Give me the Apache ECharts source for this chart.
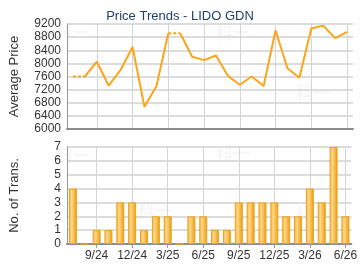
<!DOCTYPE html>
<html>
<head>
<meta charset="UTF-8">
<title>Price Trends - LIDO GDN</title>
<script src="https://cdn.jsdelivr.net/npm/echarts@6/dist/echarts.min.js"></script>
<style>
* { margin: 0; padding: 0; }
body { background: #fff; }
#chart { width: 360px; height: 270px; }
</style>
</head>
<body>
<div id="chart"></div>
<script>
// months 7/24 .. 6/26
var months = ['7/24','8/24','9/24','10/24','11/24','12/24','1/25','2/25','3/25','4/25','5/25','6/25',
              '7/25','8/25','9/25','10/25','11/25','12/25','1/26','2/26','3/26','4/26','5/26','6/26'];
var avgPrice = [7600, 7600, 8050, 7320, 7800, 8500, 6680, 7300, 8920, 8920, 8200, 8100,
                8240, 7620, 7350, 7600, 7310, 9000, 7850, 7560, 9060, 9150, 8770, 8960];
// months with no transactions: price carried forward (dotted segment into them)
var carried = [1, 9];
var trans = [4, 0, 1, 1, 3, 3, 1, 2, 2, 0, 2, 2, 1, 1, 3, 3, 3, 3, 2, 2, 4, 3, 7, 2];
var priceTicks = [6000, 6400, 6800, 7200, 7600, 8000, 8400, 8800, 9200];

var lineColor = '#f9a61a';

// split the price line into solid runs and dotted segments
var lineSeries = [];
function emptyRow() { return months.map(function () { return null; }); }
var run = null;
for (var i = 0; i < months.length; i++) {
    if (i > 0 && carried.indexOf(i) >= 0) {
        var dot = emptyRow();
        dot[i - 1] = avgPrice[i - 1];
        dot[i] = avgPrice[i];
        lineSeries.push({ data: dot, dotted: true });
        run = null;
    }
    if (i + 1 < months.length && carried.indexOf(i + 1) >= 0) {
        if (run) run[i] = avgPrice[i];
        run = null;
        continue;
    }
    if (!run) { run = emptyRow(); lineSeries.push({ data: run, dotted: false }); }
    run[i] = avgPrice[i];
}

var labelShow = function (idx) { return (idx - 2) % 3 === 0; };

var chart = echarts.init(document.getElementById('chart'), null, { renderer: 'canvas' });

// faint watermark
var marks = [[56, 24], [138, 82], [216, 24], [296, 84], [56, 147], [138, 202], [216, 145], [296, 205]];
var graphic = marks.map(function (p) {
    return { type: 'text', left: p[0], top: p[1], z: 0, silent: true,
        style: { text: '科一', fill: 'rgba(0,0,0,0.035)', font: 'bold 17px "Noto Sans CJK SC"' } };
});

chart.setOption({
    backgroundColor: '#fff',
    animation: false,
    graphic: graphic,
    title: {
        text: 'Price Trends - LIDO GDN',
        left: 'center',
        top: 5,
        textStyle: { color: '#1f3f6a', fontSize: 13, fontWeight: 'normal', fontFamily: 'Liberation Sans' }
    },
    grid: [
        { left: 64, right: 7, top: 24, height: 105 },
        { left: 64, right: 7, top: 147, height: 97 }
    ],
    xAxis: [0, 1].map(function (g) {
        return {
            type: 'category',
            gridIndex: g,
            data: months,
            boundaryGap: true,
            axisLine: { lineStyle: { color: '#8c8c8c', width: 2 } },
            axisTick: { show: g === 1, alignWithLabel: true, interval: labelShow, length: 4, lineStyle: { color: '#999' } },
            axisLabel: { show: g === 1, interval: labelShow, color: '#333', fontSize: 12, margin: 6, fontFamily: 'Liberation Sans' },
            splitLine: { show: true, alignWithLabel: true, interval: labelShow, lineStyle: { color: '#d4d4d4', width: 1 } }
        };
    }),
    yAxis: [
        {
            type: 'value', gridIndex: 0, min: priceTicks[0], max: priceTicks[priceTicks.length - 1], interval: 400,
            name: 'Average Price', nameLocation: 'middle', nameGap: 46,
            nameTextStyle: { color: '#333', fontSize: 13, fontFamily: 'Liberation Sans' },
            axisLine: { show: true, lineStyle: { color: '#999', width: 1 } },
            axisTick: { show: false },
            axisLabel: { color: '#333', fontSize: 12, margin: 6, fontFamily: 'Liberation Sans',
                formatter: function (v) { return String(v); } },
            splitLine: { lineStyle: { color: '#dcdcdc', width: 2 } }
        },
        {
            type: 'value', gridIndex: 1, min: 0, max: 7, interval: 1,
            name: 'No. of Trans.', nameLocation: 'middle', nameGap: 46,
            nameTextStyle: { color: '#333', fontSize: 13, fontFamily: 'Liberation Sans' },
            axisLine: { show: true, lineStyle: { color: '#999', width: 1 } },
            axisTick: { show: false },
            axisLabel: { color: '#333', fontSize: 12, margin: 6, fontFamily: 'Liberation Sans' },
            splitLine: { lineStyle: { color: '#dcdcdc', width: 2 } }
        }
    ],
    series: lineSeries.map(function (s) {
        return {
            type: 'line', xAxisIndex: 0, yAxisIndex: 0, data: s.data,
            showSymbol: false, connectNulls: false, z: 3,
            lineStyle: { color: lineColor, width: 2, type: s.dotted ? [3, 2] : 'solid' }
        };
    }).concat([{
        type: 'bar', xAxisIndex: 1, yAxisIndex: 1, data: trans, barWidth: 8, z: 3,
        itemStyle: {
            color: new echarts.graphic.LinearGradient(0, 0, 1, 0, [
                { offset: 0, color: '#f6b33a' },
                { offset: 0.35, color: '#ffd688' },
                { offset: 1, color: '#e89a08' }
            ]),
            borderColor: '#eaa11c', borderWidth: 1
        }
    }])
});
</script>
</body>
</html>
